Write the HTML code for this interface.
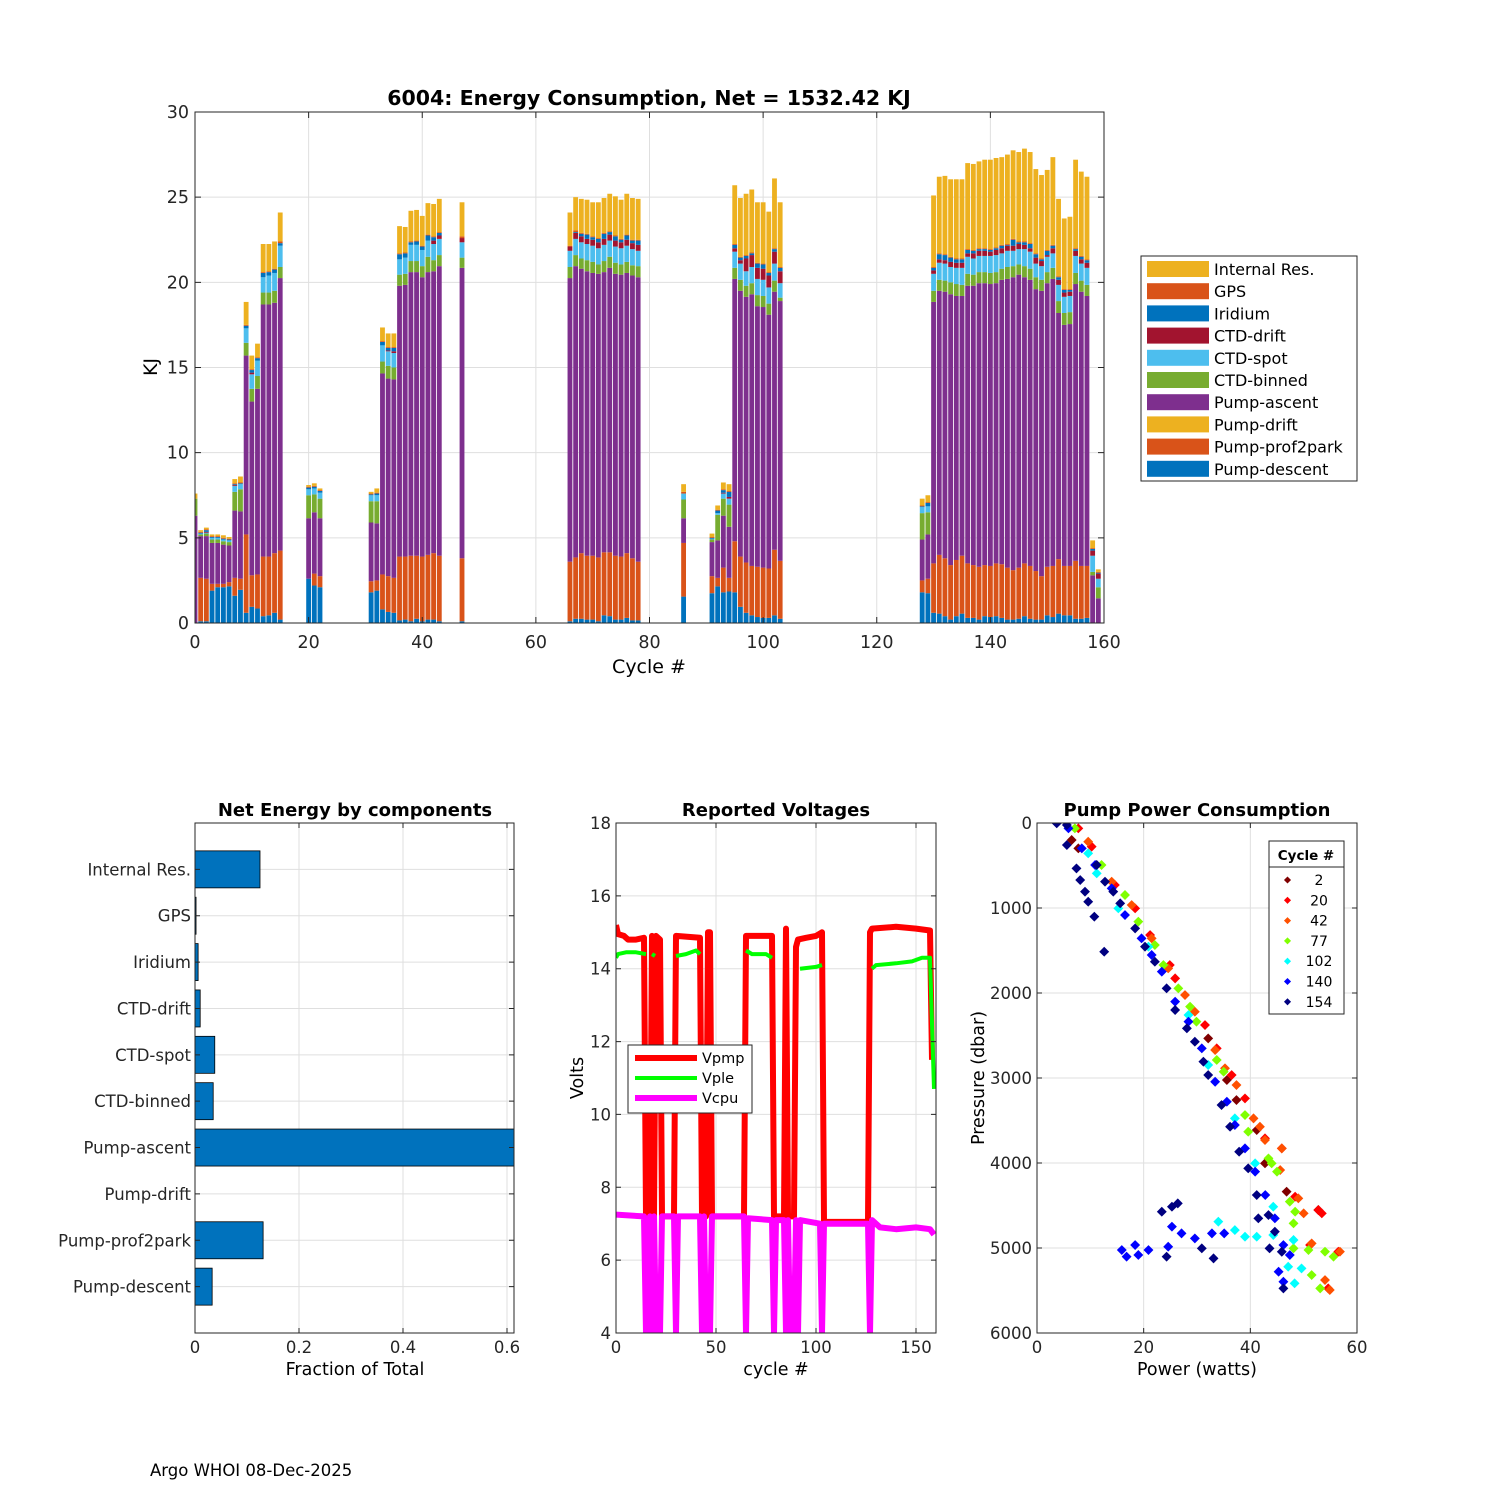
<!DOCTYPE html>
<html><head><meta charset="utf-8"><style>
html,body{margin:0;padding:0;background:#fff;}
svg{display:block;font-family:"DejaVu Sans","Liberation Sans",sans-serif;}
</style></head><body>
<svg id="fig" width="1500" height="1500" viewBox="0 0 1500 1500" xmlns="http://www.w3.org/2000/svg">
<rect x="0" y="0" width="1500" height="1500" fill="#fff"/>
<defs>
<clipPath id="clipTop"><rect x="195" y="112" width="909" height="511"/></clipPath>
<clipPath id="clipBar"><rect x="195" y="823" width="319" height="510"/></clipPath>
<clipPath id="clipV"><rect x="616" y="823" width="320" height="510"/></clipPath>
<clipPath id="clipS"><rect x="1037" y="823" width="320" height="510"/></clipPath>
</defs>
<g id="gTopGrid"></g>
<g id="gTopBars" clip-path="url(#clipTop)"></g>
<g id="gTopAxes"></g>
<text x="649" y="105" font-size="20.5" font-weight="bold" text-anchor="middle">6004: Energy Consumption,  Net = 1532.42 KJ</text>
<text x="649" y="673" font-size="19" text-anchor="middle">Cycle #</text>
<text x="157" y="367" font-size="19" text-anchor="middle" transform="rotate(-90 157 367)">KJ</text>
<g id="gLegend"></g>

<g id="gBarGrid"></g>
<g id="gBars" clip-path="url(#clipBar)"></g>
<g id="gBarAxes"></g>
<text x="355" y="816" font-size="18" font-weight="bold" text-anchor="middle">Net Energy by components</text>
<text x="355" y="1375" font-size="17.5" text-anchor="middle">Fraction of Total</text>

<g id="gVGrid"></g>
<g id="gVLines" clip-path="url(#clipV)"></g>
<g id="gVAxes"></g>
<text x="776" y="816" font-size="18" font-weight="bold" text-anchor="middle">Reported Voltages</text>
<text x="776" y="1375" font-size="17.5" text-anchor="middle">cycle #</text>
<text x="583" y="1078" font-size="17.5" text-anchor="middle" transform="rotate(-90 583 1078)">Volts</text>
<g id="gVLegend"></g>

<g id="gSGrid"></g>
<g id="gSPts" clip-path="url(#clipS)"></g>
<g id="gSAxes"></g>
<text x="1197" y="816" font-size="18" font-weight="bold" text-anchor="middle">Pump Power Consumption</text>
<text x="1197" y="1375" font-size="17.5" text-anchor="middle">Power (watts)</text>
<text x="984" y="1078" font-size="17.5" text-anchor="middle" transform="rotate(-90 984 1078)">Pressure (dbar)</text>
<g id="gSLegend"></g>

<text x="150" y="1476" font-size="16.5">Argo WHOI 08-Dec-2025</text>
</svg>
<script>
// ===== Energy chart data (cumulative stack tops per cycle, KJ) =====
const cycles = [0,1,2,3,4,5,6,7,8,9,10,11,12,13,14,15,20,21,22,31,32,33,34,35,36,37,38,39,40,41,42,43,47,66,67,68,69,70,71,72,73,74,75,76,77,78,86,91,92,93,94,95,96,97,98,99,100,101,102,103,128,129,130,131,132,133,134,135,136,137,138,139,140,141,142,143,144,145,146,147,148,149,150,151,152,153,154,155,156,157,158,159];
const seriesNames = ["Pump-descent","Pump-prof2park","Pump-ascent","CTD-binned","CTD-spot","CTD-drift","Iridium","GPS","Internal Res."];
const seriesColors = ["#0072BD","#D95319","#7E2F8E","#77AC30","#4DBEEE","#A2142F","#0072BD","#D95319","#EDB120"];
const stackTops = [
[0,0,6.3,7.3,7.3,7.3,7.3,7.3,7.6],
[0.1,2.65,5.1,5.2,5.25,5.25,5.3,5.35,5.45],
[0.1,2.6,5.1,5.25,5.3,5.35,5.45,5.5,5.6],
[1.9,2.3,4.7,4.9,5.0,5.0,5.05,5.1,5.2],
[2.1,2.3,4.7,4.9,5.0,5.0,5.05,5.1,5.2],
[2.1,2.3,4.6,4.8,4.9,4.9,4.95,5.0,5.15],
[2.15,2.4,4.55,4.75,4.85,4.85,4.9,4.95,5.05],
[1.6,2.65,6.6,7.7,8.05,8.1,8.15,8.2,8.45],
[1.95,2.6,6.55,7.85,8.15,8.15,8.2,8.25,8.6],
[0.6,5.2,15.7,16.45,17.3,17.3,17.45,17.5,18.85],
[0.95,2.8,13.0,13.75,14.6,14.7,14.85,14.9,15.7],
[0.85,2.85,13.75,14.5,15.4,15.4,15.55,15.6,16.4],
[0.4,3.9,18.7,19.4,20.3,20.3,20.55,20.6,22.25],
[0.45,3.9,18.7,19.4,20.4,20.4,20.6,20.65,22.25],
[0.6,4.1,18.8,19.5,20.55,20.55,20.75,20.8,22.4],
[0.2,4.25,20.25,20.9,22.15,22.15,22.3,22.4,24.1],
[2.6,2.6,6.15,7.5,7.85,7.85,7.95,8.0,8.1],
[2.2,2.9,6.5,7.55,7.9,7.9,8.0,8.05,8.2],
[2.1,2.75,6.15,7.3,7.65,7.65,7.75,7.8,7.9],
[1.8,2.45,5.9,7.15,7.5,7.5,7.55,7.6,7.7],
[1.9,2.5,5.85,7.15,7.5,7.5,7.6,7.65,7.9],
[0.8,2.85,14.65,15.35,16.3,16.3,16.5,16.55,17.35],
[0.65,2.75,14.35,15.1,15.95,16.0,16.15,16.2,17.0],
[0.6,2.65,14.3,15.0,15.85,15.95,16.15,16.2,17.0],
[0.15,3.9,19.8,20.45,21.35,21.35,21.65,21.7,23.3],
[0.2,3.9,19.85,20.5,21.45,21.45,21.7,21.75,23.25],
[0.1,3.95,20.6,21.25,22.2,22.2,22.35,22.4,24.2],
[0.25,3.95,20.6,21.25,22.2,22.2,22.4,22.45,24.25],
[0.1,3.9,20.3,20.95,21.9,21.9,22.1,22.15,23.9],
[0.2,4.0,20.6,21.5,22.45,22.45,22.75,22.8,24.65],
[0.2,4.1,20.65,21.3,22.25,22.45,22.65,22.7,24.6],
[0.1,3.95,20.95,21.6,22.55,22.75,22.9,22.95,24.9],
[0.1,3.8,20.85,21.45,22.35,22.6,22.6,22.7,24.7],
[0.1,3.6,20.25,20.9,21.85,22.1,22.1,22.15,24.1],
[0.25,3.85,20.95,21.6,22.55,22.9,22.95,23.05,25.0],
[0.25,4.1,20.8,21.4,22.35,22.7,22.85,22.9,24.9],
[0.2,3.95,20.65,21.3,22.25,22.55,22.8,22.85,24.85],
[0.2,3.95,20.55,21.2,22.15,22.5,22.65,22.7,24.7],
[0.1,3.85,20.5,21.05,22.0,22.35,22.55,22.6,24.7],
[0.45,4.15,20.6,21.25,22.2,22.55,22.85,22.9,24.95],
[0.4,4.15,20.85,21.5,22.45,22.8,22.95,23.0,25.2],
[0.2,3.95,20.5,21.15,22.1,22.45,22.7,22.75,25.05],
[0.2,3.9,20.45,21.05,22.0,22.35,22.5,22.55,24.85],
[0.3,4.1,20.55,21.2,22.15,22.5,22.75,22.8,25.2],
[0.15,3.8,20.4,21.0,21.95,22.3,22.45,22.5,24.95],
[0.15,3.6,20.3,20.95,21.85,22.2,22.45,22.5,24.9],
[1.55,4.7,6.15,7.25,7.6,7.6,7.6,7.7,8.15],
[1.75,2.75,4.75,4.9,4.95,4.95,5.0,5.05,5.25],
[2.15,2.65,4.85,6.35,6.45,6.45,6.6,6.65,6.9],
[1.8,3.25,6.3,7.3,7.6,7.65,7.8,7.85,8.25],
[1.85,2.65,5.65,6.95,7.3,7.4,7.7,7.75,8.15],
[1.8,4.8,20.2,20.85,21.8,22.0,22.2,22.25,25.7],
[0.95,3.9,19.5,20.15,21.1,21.3,21.45,21.5,24.95],
[0.6,3.55,19.15,19.8,20.65,21.4,21.55,21.6,25.2],
[0.45,3.35,19.3,19.95,20.9,21.6,21.7,21.75,25.45],
[0.35,3.3,18.6,19.25,20.2,20.85,21.1,21.15,24.7],
[0.3,3.25,18.55,19.2,20.15,20.8,21.05,21.1,24.7],
[0.3,3.2,18.1,18.75,19.7,20.4,20.55,20.6,24.15],
[0.45,4.3,19.45,20.1,21.1,21.8,21.95,22.0,26.1],
[0.25,3.65,18.9,19.1,19.95,20.65,20.85,20.9,24.7],
[1.8,2.5,4.9,6.45,6.8,6.8,6.85,6.9,7.3],
[1.75,2.6,5.2,6.5,6.85,6.85,7.05,7.1,7.5],
[0.6,3.5,18.85,19.5,20.5,20.7,20.85,20.9,25.1],
[0.55,4.0,19.5,20.15,21.15,21.35,21.65,21.7,26.2],
[0.4,3.8,19.45,20.1,21.1,21.3,21.6,21.65,26.25],
[0.2,3.4,19.3,20.0,20.9,21.2,21.45,21.5,26.05],
[0.4,3.7,19.2,19.9,20.85,21.15,21.35,21.4,26.05],
[0.55,3.95,19.2,19.85,20.85,21.15,21.35,21.4,26.05],
[0.3,3.5,19.8,20.5,21.5,21.7,21.9,21.95,27.0],
[0.3,3.4,19.8,20.45,21.4,21.7,21.85,21.9,26.95],
[0.2,3.3,19.95,20.6,21.55,21.85,21.95,22.0,27.1],
[0.4,3.4,19.95,20.6,21.55,21.85,21.95,22.0,27.2],
[0.35,3.35,19.9,20.55,21.55,21.8,21.9,21.95,27.2],
[0.4,3.5,19.95,20.6,21.6,21.9,22.0,22.05,27.3],
[0.3,3.45,20.15,20.8,21.7,22.0,22.15,22.2,27.35],
[0.2,3.25,20.2,20.9,21.85,22.15,22.2,22.25,27.5],
[0.2,3.1,20.3,20.95,21.85,22.15,22.5,22.55,27.75],
[0.25,3.25,20.45,21.05,21.95,22.25,22.35,22.4,27.65],
[0.4,3.5,20.3,20.95,21.95,22.2,22.35,22.4,27.85],
[0.25,3.35,20.15,20.8,21.8,22.0,22.25,22.3,27.65],
[0.2,3.05,19.6,20.3,21.1,21.45,21.65,21.7,26.65],
[0.2,2.75,19.5,20.15,20.95,21.25,21.35,21.4,26.3],
[0.45,3.3,19.95,20.6,21.5,21.6,21.85,21.9,26.6],
[0.35,3.35,20.2,20.85,21.7,22.0,22.15,22.2,27.35],
[0.55,3.75,18.2,18.9,19.85,20.15,20.3,20.35,24.9],
[0.45,3.35,17.5,18.2,19.15,19.4,19.55,19.6,23.75],
[0.45,3.35,17.55,18.25,19.2,19.45,19.55,19.6,23.85],
[0.25,3.65,19.9,20.55,21.55,21.85,21.95,22.0,27.2],
[0.25,3.35,19.45,20.1,21.1,21.35,21.5,21.55,26.5],
[0.3,3.35,19.2,19.85,20.85,21.15,21.3,21.35,26.2],
[0,0,2.8,3.0,3.95,4.25,4.35,4.4,4.85],
[0,0,1.45,2.1,2.6,2.9,2.95,3.0,3.15]
];
const energyXTicks = [0,20,40,60,80,100,120,140,160];
const energyYTicks = [0,5,10,15,20,25,30];
const legendLabels = ["Internal Res.","GPS","Iridium","CTD-drift","CTD-spot","CTD-binned","Pump-ascent","Pump-drift","Pump-prof2park","Pump-descent"];
const legendColors = ["#EDB120","#D95319","#0072BD","#A2142F","#4DBEEE","#77AC30","#7E2F8E","#EDB120","#D95319","#0072BD"];

// ===== Component fraction data =====
const compLabels = ["Internal Res.","GPS","Iridium","CTD-drift","CTD-spot","CTD-binned","Pump-ascent","Pump-drift","Pump-prof2park","Pump-descent"];
const compFractions = [0.125,0.002,0.006,0.01,0.038,0.035,0.62,0,0.131,0.033];
const compXTicks = [0,0.2,0.4,0.6];

// ===== Voltage data (cycle, volts) =====
const vpmp = [[0,15.2],[1,14.95],[4,14.9],[6,14.8],[10,14.8],[14,14.85],[15,7.2],[17,7.2],[18,14.9],[19,7.2],[20,14.9],[22,14.8],[23,7.2],[29,7.2],[30,14.9],[42,14.85],[43,7.2],[45,7.2],[46,15.0],[47,15.0],[48,7.2],[64,7.2],[65,14.9],[78,14.9],[79,7.2],[84,7.2],[85,15.1],[86,7.2],[89,7.2],[90,14.6],[91,14.8],[95,14.85],[100,14.9],[103,15.0],[104,7.05],[126,7.05],[127,15.0],[128,15.1],[140,15.15],[150,15.1],[157,15.05],[158,11.5]];
const vple = [[[0,14.3],[1,14.4],[5,14.45],[10,14.45],[15,14.4]],[[18,14.4],[19.5,14.35]],[[30,14.35],[35,14.4],[40,14.5],[42,14.4]],[[65,14.5],[68,14.4],[75,14.4],[78,14.3]],[[92,14.0],[100,14.05],[103,14.1]],[[128,14.0],[130,14.1],[140,14.15],[148,14.2],[153,14.3],[157,14.3],[158,12.5],[159,10.7]]];
const vcpu = [[0,7.25],[14,7.2],[15,4],[16,4],[17,7.2],[18,4],[19,7.2],[20,4],[22,4],[23,7.2],[29,7.2],[30,4],[31,7.2],[42,7.2],[43,4],[44,7.2],[45,4],[47,4],[48,7.2],[64,7.2],[65,4],[66,7.15],[78,7.1],[79,4],[80,7.1],[84,7.1],[85,4],[86,7.1],[87,4],[89,4],[90,7.1],[91,4],[92,7.1],[102,7.0],[103,4],[104,7.0],[126,7.0],[127,4],[128,7.1],[132,6.9],[140,6.85],[150,6.9],[157,6.85],[159,6.7]];
const voltXTicks = [0,50,100,150];
const voltYTicks = [4,6,8,10,12,14,16,18];

// ===== Pump power data (watts, dbar) =====
const pumpCycles = [2,20,42,77,102,140,154];
const pumpColors = ["#800000","#ff0000","#ff5000","#80ff00","#00ffff","#0000ff","#000080"];
const pts2 = [[6.5,200],[7.75,298],[32.1,2534],[35.6,3024],[37.4,3259],[41.2,3612],[42.75,4004],[46.8,4337],[52.75,4553]];
const pts20 = [[7.75,63],[10.25,278],[14.6,729],[18.4,1004],[21.2,1318],[24.9,1671],[25.9,1828],[31.5,2377],[33.7,2651],[36.5,2965],[39.0,3240],[42.75,3710],[45.9,3828],[48.4,4396],[52.75,4553],[53.4,4592],[51.2,4965],[56.5,5043],[54.6,5475]];
const pts42 = [[9.6,220],[14.0,690],[17.75,965],[21.5,1357],[24.6,1710],[27.75,2024],[29.6,2220],[33.4,2671],[35.25,2886],[37.4,3083],[40.6,3475],[41.8,3573],[42.75,3730],[45.9,3828],[45.6,4083],[49.0,4416],[50.0,4592],[51.5,4946],[56.8,5043],[54.0,5377],[54.9,5494]];
const pts77 = [[7.1,63],[12.1,494],[16.5,847],[19.0,1161],[22.1,1436],[23.7,1671],[26.5,1945],[28.7,2161],[29.9,2337],[33.7,2788],[35.0,2926],[39.0,3436],[39.6,3632],[43.4,3946],[44.0,4004],[45.0,4102],[47.4,4455],[48.4,4573],[48.1,4710],[48.1,5004],[50.9,5024],[54.0,5043],[55.6,5102],[51.5,5318],[53.1,5475]];
const pts102 = [[9.6,357],[11.2,592],[15.25,1004],[20.9,1455],[28.4,2259],[32.1,2847],[37.1,3475],[40.9,4004],[44.3,4514],[34.0,4690],[37.1,4789],[39.0,4867],[41.2,4867],[44.3,4847],[48.1,4906],[47.1,5220],[49.6,5240],[48.3,5416]];
const pts140 = [[5.9,63],[8.4,298],[10.9,494],[14.0,769],[16.5,1083],[19.6,1357],[21.5,1553],[23.4,1749],[25.9,2102],[28.4,2337],[30.9,2651],[33.4,3044],[35.6,3279],[37.1,3553],[39.0,3828],[40.9,4102],[42.8,4377],[44.6,4651],[46.2,4965],[47.4,5083],[45.3,5279],[46.2,5397],[15.9,5024],[18.4,4965],[20.9,5024],[16.8,5102],[19.0,5082],[25.3,4749],[27.1,4828],[29.6,4887],[32.8,4828],[35.1,4828],[24.6,4985]];
const pts154 = [[3.7,4],[5.6,24],[5.6,259],[7.4,534],[8.1,671],[9.0,808],[9.6,926],[10.75,1102],[12.6,1514],[11.2,494],[12.75,690],[14.3,808],[15.6,945],[18.4,1240],[20.25,1455],[22.1,1632],[24.3,1945],[25.9,2200],[28.1,2416],[29.6,2573],[31.2,2808],[32.1,2965],[34.6,3318],[36.2,3573],[37.9,3867],[39.6,4063],[41.2,4377],[43.4,4612],[44.6,4808],[45.9,5044],[46.2,5475],[23.4,4573],[25.3,4514],[26.4,4475],[30.9,5004],[33.1,5122],[24.3,5102],[41.5,4651],[43.6,5004]];
const pumpXTicks = [0,20,40,60];
const pumpYTicks = [0,1000,2000,3000,4000,5000,6000];

const NS = "http://www.w3.org/2000/svg";
function mk(parent, tag, attrs, txt){
  const e = document.createElementNS(NS, tag);
  for (const k in attrs) e.setAttribute(k, attrs[k]);
  if (txt !== undefined) e.textContent = txt;
  parent.appendChild(e);
  return e;
}
const $ = id => document.getElementById(id);
const GRID = "#dfdfdf", AX = "#262626";

function axesBox(g, x0, y0, x1, y1, name){
  const r = mk(g, "rect", {x:x0, y:y0, width:x1-x0, height:y1-y0, fill:"none", stroke:AX, "stroke-width":1});
  
  
}

// ===== Top energy chart =====
const EX = c => 195 + c * (909/160);
const EY = v => 623 - v * (511/30);
energyXTicks.forEach(t => {
  const x = EX(t);
  if (t > 0 && t < 160) {
    const gl = mk($("gTopGrid"), "line", {x1:x, x2:x, y1:112, y2:623, stroke:GRID});
    
    
  }
  const tk = mk($("gTopAxes"), "path", {d:`M${x},623v-6M${x},112v6`, stroke:AX});
  
  
  const lb = mk($("gTopAxes"), "text", {x:x, y:648, "font-size":17.5, "text-anchor":"middle", fill:AX}, String(t));
  
  
});
energyYTicks.forEach(t => {
  const y = EY(t);
  if (t > 0 && t < 30) {
    const gl = mk($("gTopGrid"), "line", {x1:195, x2:1104, y1:y, y2:y, stroke:GRID});
    
    
  }
  const tk = mk($("gTopAxes"), "path", {d:`M195,${y}h6M1104,${y}h-6`, stroke:AX});
  
  
  const lb = mk($("gTopAxes"), "text", {x:189, y:y+6, "font-size":17.5, "text-anchor":"end", fill:AX}, String(t));
  
  
});
const bw = 0.85 * (909/160);
cycles.forEach((c, i) => {
  let prev = 0;
  stackTops[i].forEach((top, s) => {
    if (top > prev) {
      const r = mk($("gTopBars"), "rect", {x:EX(c)-bw/2, y:EY(top), width:bw, height:EY(prev)-EY(top), fill:seriesColors[s]});
      
      
    }
    prev = Math.max(prev, top);
  });
});
axesBox($("gTopAxes"), 195, 112, 1104, 623, 'energy-axes-box');
{
  const g = $("gLegend");
  const box = mk(g, "rect", {x:1141, y:256, width:216, height:225, fill:"#fff", stroke:AX});
  
  
  legendLabels.forEach((lab, i) => {
    const y = 269 + i * 22.2;
    const sw = mk(g, "rect", {x:1147, y:y-8, width:62, height:16, fill:legendColors[i]});
    
    
    const t = mk(g, "text", {x:1214, y:y+6, "font-size":16, fill:"#000"}, lab);
    
    
  });
}

// ===== Components bar chart =====
const BX = f => 195 + f * 520;
const BY = i => 823 + (i + 1) * (510/11);
compXTicks.forEach(t => {
  const x = BX(t);
  if (t > 0) {
    const gl = mk($("gBarGrid"), "line", {x1:x, x2:x, y1:823, y2:1333, stroke:GRID});
    
    
  }
  const tk = mk($("gBarAxes"), "path", {d:`M${x},1333v-5M${x},823v5`, stroke:AX});
  
  
  const lb = mk($("gBarAxes"), "text", {x:x, y:1353, "font-size":16.5, "text-anchor":"middle", fill:AX}, String(t));
  
  
});
compLabels.forEach((lab, i) => {
  const y = BY(i);
  const gl = mk($("gBarGrid"), "line", {x1:195, x2:514, y1:y, y2:y, stroke:GRID});
  
  
  const tk = mk($("gBarAxes"), "path", {d:`M195,${y}h5M514,${y}h-5`, stroke:AX});
  
  
  const lb = mk($("gBarAxes"), "text", {x:191, y:y+6, "font-size":16.5, "text-anchor":"end", fill:AX}, lab);
  
  
  const f = compFractions[i];
  if (f > 0) {
    const r = mk($("gBars"), "rect", {x:BX(0), y:y-18.5, width:BX(f)-BX(0), height:37, fill:"#0072BD", stroke:"#000", "stroke-width":0.8});
    
    
  }
});
axesBox($("gBarAxes"), 195, 823, 514, 1333, 'components-axes-box');

// ===== Voltage chart =====
const VX = c => 616 + c * 2;
const VY = v => 823 + (18 - v) * (510/14);
voltXTicks.forEach(t => {
  const x = VX(t);
  if (t > 0) {
    const gl = mk($("gVGrid"), "line", {x1:x, x2:x, y1:823, y2:1333, stroke:GRID});
    
    
  }
  const tk = mk($("gVAxes"), "path", {d:`M${x},1333v-5M${x},823v5`, stroke:AX});
  
  
  const lb = mk($("gVAxes"), "text", {x:x, y:1353, "font-size":16.5, "text-anchor":"middle", fill:AX}, String(t));
  
  
});
voltYTicks.forEach(t => {
  const y = VY(t);
  if (t > 4 && t < 18) {
    const gl = mk($("gVGrid"), "line", {x1:616, x2:936, y1:y, y2:y, stroke:GRID});
    
    
  }
  const tk = mk($("gVAxes"), "path", {d:`M616,${y}h5M936,${y}h-5`, stroke:AX});
  
  
  const lb = mk($("gVAxes"), "text", {x:611, y:y+6, "font-size":16.5, "text-anchor":"end", fill:AX}, String(t));
  
  
});
const pathOf = (pts) => pts.map((p, k) => (k ? "L" : "M") + VX(p[0]).toFixed(1) + "," + VY(p[1]).toFixed(1)).join("");
{
  const l1 = mk($("gVLines"), "path", {d:pathOf(vpmp), fill:"none", stroke:"#ff0000", "stroke-width":6, "stroke-linejoin":"round"});
  
  
  vple.forEach(seg => {
    const l2 = mk($("gVLines"), "path", {d:pathOf(seg), fill:"none", stroke:"#00ff00", "stroke-width":4, "stroke-linejoin":"round"});
    
    
  });
  const l3 = mk($("gVLines"), "path", {d:pathOf(vcpu), fill:"none", stroke:"#ff00ff", "stroke-width":6, "stroke-linejoin":"round"});
  
  
}
axesBox($("gVAxes"), 616, 823, 936, 1333, 'voltage-axes-box');
{
  const g = $("gVLegend");
  const box = mk(g, "rect", {x:628, y:1045, width:124, height:68, fill:"#fff", stroke:AX});
  
  
  const names = ["Vpmp","Vple","Vcpu"], cols = ["#ff0000","#00ff00","#ff00ff"], ws = [6,4,6];
  names.forEach((n, i) => {
    const y = 1058 + i * 20;
    const ln = mk(g, "line", {x1:635, x2:697, y1:y, y2:y, stroke:cols[i], "stroke-width":ws[i]});
    
    
    const t = mk(g, "text", {x:702, y:y+5, "font-size":14.5, fill:"#000"}, n);
    
    
  });
}

// ===== Pump power scatter =====
const SX = w => 1037 + w * (320/60);
const SY = p => 823 + p * (510/6000);
pumpXTicks.forEach(t => {
  const x = SX(t);
  if (t > 0 && t < 60) {
    const gl = mk($("gSGrid"), "line", {x1:x, x2:x, y1:823, y2:1333, stroke:GRID});
    
    
  }
  const tk = mk($("gSAxes"), "path", {d:`M${x},1333v-5M${x},823v5`, stroke:AX});
  
  
  const lb = mk($("gSAxes"), "text", {x:x, y:1353, "font-size":16.5, "text-anchor":"middle", fill:AX}, String(t));
  
  
});
pumpYTicks.forEach(t => {
  const y = SY(t);
  if (t > 0 && t < 6000) {
    const gl = mk($("gSGrid"), "line", {x1:1037, x2:1357, y1:y, y2:y, stroke:GRID});
    
    
  }
  const tk = mk($("gSAxes"), "path", {d:`M1037,${y}h5M1357,${y}h-5`, stroke:AX});
  
  
  const lb = mk($("gSAxes"), "text", {x:1032, y:y+6, "font-size":16.5, "text-anchor":"end", fill:AX}, String(t));
  
  
});
const pumpSeries = [pts2, pts20, pts42, pts77, pts102, pts140, pts154];
pumpSeries.forEach((pts, s) => {
  pts.forEach(p => {
    const d = mk($("gSPts"), "rect", {x:SX(p[0])-3.5, y:SY(p[1])-3.5, width:7, height:7, fill:pumpColors[s], transform:`rotate(45 ${SX(p[0])} ${SY(p[1])})`});
    
    
  });
});
axesBox($("gSAxes"), 1037, 823, 1357, 1333, 'pump-axes-box');
{
  const g = $("gSLegend");
  const box = mk(g, "rect", {x:1269, y:841, width:75, height:173, fill:"#fff", stroke:AX});
  
  
  const ttl = mk(g, "text", {x:1306, y:860, "font-size":13.5, "font-weight":"bold", "text-anchor":"middle"}, "Cycle #");
  
  
  const sep = mk(g, "line", {x1:1269, x2:1344, y1:867, y2:867, stroke:AX});
  
  
  pumpCycles.forEach((c, i) => {
    const y = 880 + i * 20.3;
    const m = mk(g, "rect", {x:1285, y:y-2.5, width:5, height:5, fill:pumpColors[i], transform:`rotate(45 1287.5 ${y})`});
    
    
    const t = mk(g, "text", {x:1319, y:y+5, "font-size":14, "text-anchor":"middle"}, String(c));
    
    
  });
}
</script>
</body></html>
